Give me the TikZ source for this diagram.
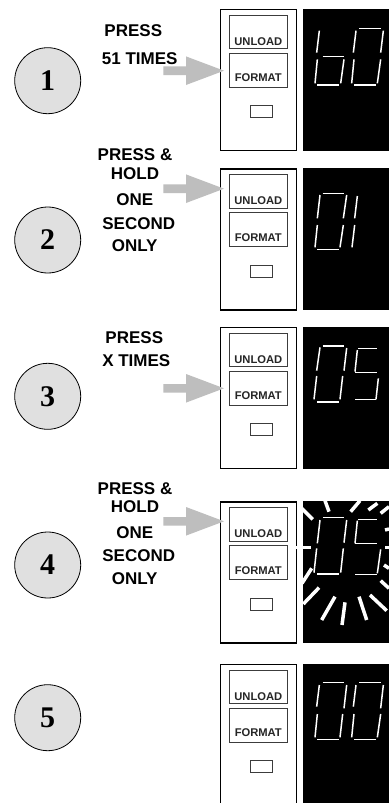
\documentclass[tikz,border=0pt]{standalone}
\usepackage{fontspec}
\setmainfont{Liberation Sans}
\newfontfamily\numfont{Liberation Serif}
\definecolor{circfill}{HTML}{E0E0E0}
\definecolor{arrowgray}{HTML}{BEBEBE}
\definecolor{btnedge}{HTML}{3C3C3C}
\tikzset{
  stepcircle/.style={circle,draw=black,line width=0.8pt,fill=circfill,minimum size=66pt,inner sep=0pt,font=\numfont\bfseries\fontsize{30}{30}\selectfont},
  instr/.style={font=\bfseries\fontsize{17}{17}\selectfont,inner sep=0pt,anchor=center},
  paneledge/.style={draw=black,line width=1.2pt,fill=white},
  btn/.style={draw=btnedge,line width=1pt,fill=white},
  btnlabel/.style={font=\bfseries\fontsize{11.2}{11.2}\selectfont,text=black!85,inner sep=0pt},
  seven/.style={draw=white,line width=1.5pt},
  ray/.style={draw=white,line width=3.5pt},
  pressarrow/.style={fill=arrowgray,draw=none}
}
% segment in crop coordinates: 3x scale, x from 220, y from \yo
\newcommand{\yo}{0}
\newcommand{\seg}[4]{\draw[seven] ({220+#1/3},{\yo+#2/3}) -- ({220+#3/3},{\yo+#4/3});}
\newcommand{\rayseg}[5][3.5pt]{\draw[ray,line width=#1] ({220+#2/3},{\yo+#3/3}) -- ({220+#4/3},{\yo+#5/3});}
\newcommand{\panelunit}[2]{% name, top
  \fill[black] (303,{#2-0.5}) rectangle (389,{#2+141.5});
  \node[paneledge,anchor=north west,minimum width=75.8pt,minimum height=141pt,inner sep=0pt] (#1p) at (220.1,#2) {};
  \node[btn,anchor=north west,minimum width=57.7pt,minimum height=33.7pt,inner sep=0pt] (#1u) at (229,{#2+5.7}) {};
  \node[btn,anchor=north west,minimum width=57.7pt,minimum height=34pt,inner sep=0pt] (#1f) at (229,{#2+43.7}) {};
  \node[btn,anchor=north west,minimum width=22pt,minimum height=12pt,inner sep=0pt,line width=0.9pt] (#1l) at (250,{#2+96.3}) {};
  \node[btnlabel] (#1ut) at (258.3,{#2+32.4}) {UNLOAD};
  \node[btnlabel] (#1ft) at (258.3,{#2+69}) {FORMAT};
}
\newcommand{\pressarr}[2]{% name, y
  \coordinate (#1tip) at (224,#2);
  \fill[pressarrow] (163.3,{#2-4.3}) -- (186,{#2-4.3}) -- (186,{#2-14.3}) -- (#1tip) -- (186,{#2+14.3}) -- (186,{#2+4.3}) -- (163.3,{#2+4.3}) -- cycle;
}
\begin{document}
\begin{tikzpicture}[x=1pt,y=-1pt]
\clip (0,0) rectangle (389,803);
\fill[white] (0,0) rectangle (389,803);

\node[stepcircle] (c1) at (47.7,80.7) {1};
\node[stepcircle] (c2) at (47.7,240) {2};
\node[stepcircle] (c3) at (47.7,396.3) {3};
\node[stepcircle] (c4) at (47.7,565) {4};
\node[stepcircle] (c5) at (47.7,717.7) {5};

\panelunit{a}{9}
\panelunit{b}{168.3}
\panelunit{c}{327}
\panelunit{d}{501.3}
\panelunit{e}{664}

\pressarr{a}{70.7}
\pressarr{b}{188.7}
\pressarr{c}{388.3}
\pressarr{d}{521.3}

\node[instr] (t11) at (133.3,30.7) {PRESS};
\node[instr] (t12) at (139.7,58.3) {51 TIMES};
\node[instr] (t21) at (135,155) {PRESS \&};
\node[instr] (t22) at (135,174) {HOLD};
\node[instr] (t23) at (134.7,199.3) {ONE};
\node[instr] (t24) at (138.7,223.3) {SECOND};
\node[instr] (t25) at (134.7,246) {ONLY};
\node[instr] (t31) at (134.3,337.3) {PRESS};
\node[instr] (t32) at (136.3,360.7) {X TIMES};
\node[instr] (t41) at (135,488.3) {PRESS \&};
\node[instr] (t42) at (135,506.7) {HOLD};
\node[instr] (t43) at (134.7,532.3) {ONE};
\node[instr] (t44) at (138.7,556) {SECOND};
\node[instr] (t45) at (134.7,579) {ONLY};

% panel 1: b0
\renewcommand{\yo}{0}
\seg{298}{92}{290}{158}\seg{292}{178}{285}{250}\seg{308}{170}{372}{170}\seg{372}{178}{362}{250}\seg{292}{255}{358}{255}
\seg{418}{85}{482}{85}\seg{408}{92}{400}{158}\seg{402}{178}{395}{250}\seg{402}{255}{468}{255}\seg{490}{92}{482}{158}\seg{482}{178}{472}{250}

% panel 2: 01
\renewcommand{\yo}{160}
\seg{308}{100}{372}{100}\seg{300}{105}{292}{175}\seg{292}{195}{285}{262}\seg{292}{268}{358}{268}\seg{380}{105}{370}{175}\seg{370}{195}{360}{262}
\seg{412}{108}{404}{175}\seg{404}{195}{396}{262}

% panel 3: 05
\renewcommand{\yo}{320}
\seg{308}{78}{372}{78}\seg{300}{82}{290}{152}\seg{290}{168}{282}{238}\seg{292}{246}{358}{246}\seg{380}{84}{372}{152}\seg{368}{168}{360}{238}
\seg{415}{85}{470}{85}\seg{412}{90}{405}{155}\seg{405}{158}{470}{158}\seg{475}{175}{468}{238}\seg{405}{238}{468}{238}

% panel 4: 05 with burst
\renewcommand{\yo}{480}
\seg{310}{112}{372}{112}\seg{300}{120}{292}{190}\seg{290}{205}{282}{278}\seg{292}{282}{358}{282}\seg{380}{120}{372}{188}\seg{370}{205}{362}{278}
\seg{415}{118}{470}{118}\seg{412}{122}{405}{190}\seg{405}{190}{470}{190}\seg{482}{208}{472}{280}\seg{405}{284}{470}{284}
\rayseg{245}{85}{278}{118}
\rayseg{315}{62}{327}{95}
\rayseg{392}{95}{420}{62}
\rayseg{445}{90}{472}{70}
\rayseg{482}{100}{507}{80}
\rayseg{495}{150}{507}{147}
\rayseg{495}{203}{507}{203}
\rayseg{492}{255}{507}{265}
\rayseg{482}{302}{507}{325}
\rayseg{450}{345}{500}{392}
\rayseg{417}{350}{440}{420}
\rayseg{375}{367}{366}{435}
\rayseg{345}{350}{305}{420}
\rayseg{297}{323}{250}{372}
\rayseg{275}{265}{246}{310}
\rayseg[2.5pt]{222}{202}{272}{202}

% panel 5: 00
\renewcommand{\yo}{640}
\seg{308}{128}{372}{128}\seg{298}{135}{290}{200}\seg{292}{222}{285}{292}\seg{292}{298}{358}{298}\seg{380}{135}{372}{205}\seg{368}{222}{360}{292}
\seg{418}{128}{482}{128}\seg{408}{135}{400}{200}\seg{402}{222}{395}{292}\seg{402}{298}{468}{298}\seg{490}{135}{482}{205}\seg{482}{222}{472}{292}
\end{tikzpicture}
\end{document}
